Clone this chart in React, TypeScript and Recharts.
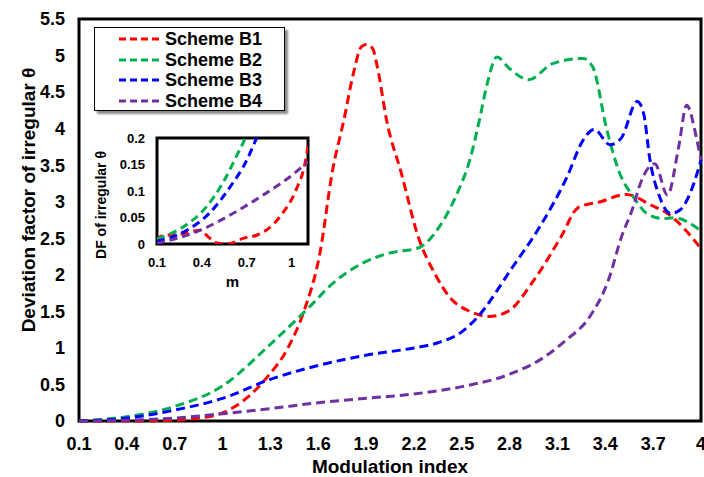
import { LineChart, Line, XAxis, YAxis, ReferenceArea } from 'recharts'

const FONT = 'Arial, "Liberation Sans", sans-serif'

// main chart ticks
const xTicks = [0.1, 0.4, 0.7, 1, 1.3, 1.6, 1.9, 2.2, 2.5, 2.8, 3.1, 3.4, 3.7, 4]
const yTicks = [0, 0.5, 1, 1.5, 2, 2.5, 3, 3.5, 4, 4.5, 5, 5.5]

// Scheme B1 (red)
const b1X = [0.1, 0.4, 0.7, 0.85, 1.0, 1.16, 1.28, 1.41, 1.51, 1.61, 1.69, 1.76, 1.82, 1.87, 1.9, 1.94, 1.97, 2.03, 2.12, 2.23, 2.33, 2.43, 2.55, 2.67, 2.79, 2.95, 3.12, 3.23, 3.37, 3.53, 3.69, 3.79, 4.0]
const b1Y = [0, 0, 0.01, 0.04, 0.11, 0.33, 0.6, 1.0, 1.5, 2.29, 3.43, 4.11, 4.75, 5.12, 5.15, 5.1, 4.85, 4.1, 3.4, 2.5, 2.02, 1.68, 1.5, 1.43, 1.5, 1.92, 2.51, 2.92, 3.0, 3.1, 2.95, 2.84, 2.36]

// Scheme B2 (green)
const b2X = [0.1, 0.4, 0.7, 1.0, 1.3, 1.54, 1.7, 1.87, 2.05, 2.23, 2.36, 2.47, 2.55, 2.61, 2.66, 2.72, 2.8, 2.92, 3.07, 3.26, 3.32, 3.41, 3.49, 3.575, 3.66, 3.76, 3.83, 4.0]
const b2Y = [0, 0.06, 0.2, 0.48, 1.05, 1.55, 1.9, 2.15, 2.3, 2.37, 2.66, 3.11, 3.57, 4.11, 4.62, 4.98, 4.82, 4.67, 4.89, 4.96, 4.85, 3.98, 3.39, 3.07, 2.84, 2.77, 2.78, 2.6]

// Scheme B3 (blue)
const b3X = [0.1, 0.4, 0.7, 1.0, 1.3, 1.6, 1.9, 2.2, 2.35, 2.5, 2.59, 2.82, 2.99, 3.16, 3.26, 3.33, 3.43, 3.5, 3.6, 3.64, 3.68, 3.74, 3.81, 3.87, 3.94, 4.0]
const b3Y = [0, 0.04, 0.15, 0.31, 0.57, 0.76, 0.9, 1.0, 1.07, 1.22, 1.4, 2.11, 2.66, 3.34, 3.84, 3.99, 3.78, 3.87, 4.37, 4.21, 3.57, 3.07, 2.84, 2.89, 3.16, 3.57]

// Scheme B4 (purple)
const b4X = [0.1, 0.4, 0.7, 1.0, 1.3, 1.6, 1.9, 2.2, 2.5, 2.8, 3.0, 3.15, 3.3, 3.42, 3.5, 3.575, 3.62, 3.71, 3.79, 3.86, 3.91, 3.97, 4.0]
const b4Y = [0, 0.01, 0.04, 0.1, 0.17, 0.25, 0.31, 0.37, 0.47, 0.64, 0.85, 1.1, 1.42, 1.93, 2.51, 2.93, 3.25, 3.52, 3.09, 3.75, 4.32, 3.89, 3.57]

// inset (small m)
const insetXTicks = [0.1, 0.4, 0.7, 1]
const insetYTicks = [0, 0.05, 0.1, 0.15, 0.2]

const i1X = [0.1, 0.12, 0.28, 0.39, 0.44, 0.5, 0.57, 0.68, 0.77, 0.83, 0.94, 1.03, 1.09, 1.12]
const i1Y = [0.006, 0.014, 0.02, 0.026, 0.014, 0.002, 0, 0.011, 0.017, 0.026, 0.058, 0.102, 0.152, 0.2]
const i2X = [0.1, 0.28, 0.43, 0.54, 0.63, 0.69, 0.71]
const i2Y = [0.01, 0.033, 0.07, 0.115, 0.165, 0.2, 0.215]
const i3X = [0.1, 0.28, 0.45, 0.59, 0.7, 0.76, 0.78]
const i3Y = [0.005, 0.023, 0.058, 0.108, 0.158, 0.196, 0.21]
const i4X = [0.1, 0.39, 0.61, 0.83, 0.99, 1.1, 1.12]
const i4Y = [0.001, 0.026, 0.058, 0.096, 0.127, 0.152, 0.156]

const names = ['Scheme B1', 'Scheme B2', 'Scheme B3', 'Scheme B4']
const colors = ['#FF0000', '#00B050', '#0000FF', '#7030A0']

const pts = (xs: number[], ys: number[]) => xs.map((x, i) => ({ x, y: ys[i] }))

const mainSeries = [pts(b1X, b1Y), pts(b2X, b2Y), pts(b3X, b3Y), pts(b4X, b4Y)]
const insetSeries = [pts(i1X, i1Y), pts(i2X, i2Y), pts(i3X, i3Y), pts(i4X, i4Y)]

const tickStyle = { fontSize: 18, fontWeight: 700, fill: '#000', fontFamily: FONT }
const insetTick = { fontSize: 13, fontWeight: 700, fill: '#000', fontFamily: FONT }

function YTitle(props: any) {
  const vb = props.viewBox
  const cx = vb.x + 28
  const cy = vb.y + vb.height / 2 - 20
  return (
    <text x={cx} y={cy} transform={`rotate(-90, ${cx}, ${cy})`} textAnchor="middle" dominantBaseline="central"
      fontFamily={FONT} fontSize={19} fontWeight={700} fill="#000">
      Deviation factor of irregular θ
    </text>
  )
}

function XTitle(props: any) {
  const vb = props.viewBox
  return (
    <text x={vb.x + vb.width / 2} y={vb.y + 52} textAnchor="middle"
      fontFamily={FONT} fontSize={19} fontWeight={700} fill="#000">
      Modulation index
    </text>
  )
}

function InsetYTitle(props: any) {
  const vb = props.viewBox
  const cx = vb.x + 21
  const cy = vb.y + vb.height / 2 + 14
  return (
    <text x={cx} y={cy} transform={`rotate(-90, ${cx}, ${cy})`} textAnchor="middle" dominantBaseline="central"
      fontFamily={FONT} fontSize={14} fontWeight={700} fill="#000">
      DF of irregular θ
    </text>
  )
}

function InsetXTitle(props: any) {
  const vb = props.viewBox
  return (
    <text x={vb.x + vb.width / 2} y={vb.y + 43} textAnchor="middle"
      fontFamily={FONT} fontSize={15} fontWeight={700} fill="#000">
      m
    </text>
  )
}

function LegendBox() {
  return (
    <div style={{
      position: 'absolute', left: 94, top: 27, width: 189, height: 81,
      border: '1.5px solid #000', background: '#fff', boxShadow: '3px 3px 2px #8c8c8c',
      fontFamily: FONT, fontWeight: 700, fontSize: 18, paddingTop: 1,
    }}>
      {names.map((n, i) => (
        <div key={n} style={{ display: 'flex', alignItems: 'center', height: 20.5, lineHeight: '20px' }}>
          <svg width={70} height={6} style={{ marginLeft: 0 }}>
            <line x1={24} y1={3} x2={66} y2={3} stroke={colors[i]} strokeWidth={3} strokeDasharray="7 4" />
          </svg>
          <span>{n}</span>
        </div>
      ))}
    </div>
  )
}

export default function App() {
  return (
    <div style={{ position: 'absolute', left: 0, top: 0, width: 704, height: 477, background: '#fff' }}>
      <LineChart width={704} height={477} margin={{ top: 19, right: 3, left: 0, bottom: 0 }}>
        <XAxis type="number" dataKey="x" domain={[0.1, 4]} ticks={xTicks} interval={0}
          tick={tickStyle} tickSize={0} tickMargin={16} axisLine={false} height={56}
          allowDuplicatedCategory={false} label={<XTitle />} />
        <YAxis type="number" domain={[0, 5.5]} ticks={yTicks} interval={0}
          tick={tickStyle} tickSize={0} tickMargin={14} axisLine={false} width={79}
          label={<YTitle />} />
        <ReferenceArea x1={0.1} x2={4} y1={0} y2={5.5} fill="none" fillOpacity={0} stroke="#000" strokeWidth={3} />
        {mainSeries.map((d, i) => (
          <Line key={names[i]} data={d} dataKey="y" name={names[i]} type="monotone" stroke={colors[i]}
            strokeWidth={3} strokeDasharray="9 5" dot={false} isAnimationActive={false} />
        ))}
      </LineChart>

      <div style={{ position: 'absolute', left: 80, top: 128 }}>
        <LineChart width={240} height={170} margin={{ top: 10, right: 12, left: 0, bottom: 0 }}>
          <XAxis type="number" dataKey="x" domain={[0.1, 1.11]} ticks={insetXTicks} interval={0}
            tick={insetTick} tickSize={0} tickMargin={14} axisLine={false} height={54}
            allowDataOverflow label={<InsetXTitle />} />
          <YAxis type="number" domain={[0, 0.2]} ticks={insetYTicks} interval={0}
            tick={insetTick} tickSize={0} tickMargin={12} axisLine={false} width={77}
            allowDataOverflow label={<InsetYTitle />} />
          <ReferenceArea x1={0.1} x2={1.11} y1={0} y2={0.2} fill="#fff" fillOpacity={1} stroke="#000" strokeWidth={3} />
          {insetSeries.map((d, i) => (
            <Line key={names[i]} data={d} dataKey="y" type="monotone" stroke={colors[i]}
              strokeWidth={3} strokeDasharray="8 5" dot={false} isAnimationActive={false} />
          ))}
        </LineChart>
      </div>

      <LegendBox />
    </div>
  )
}
